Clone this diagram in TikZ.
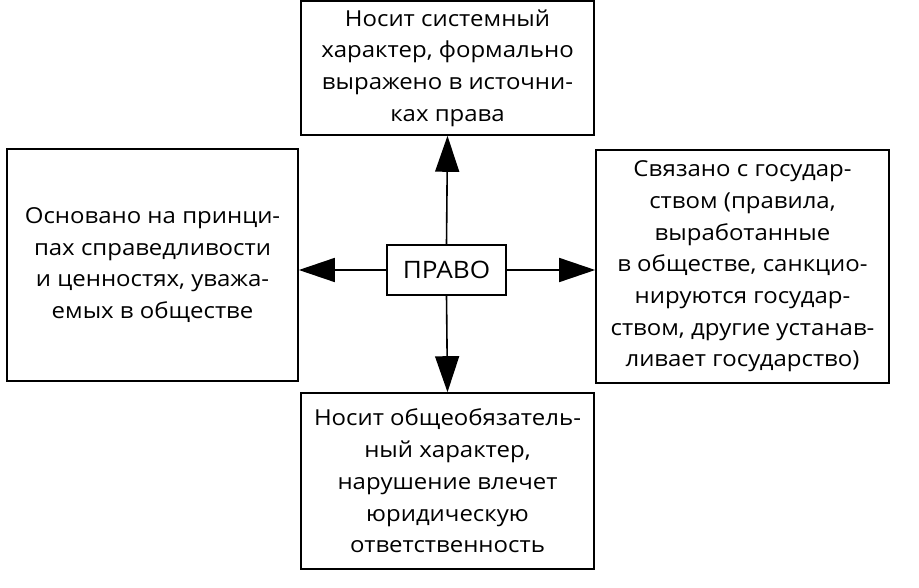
\documentclass[tikz,border=0pt]{standalone}
\usepackage{fontspec}
\setmainfont[FakeStretch=1.09]{Open Sans}
\usepackage{tikz}
\usetikzlibrary{positioning,arrows.meta}

\begin{document}
\begin{tikzpicture}[x=1pt,y=-1pt,
		box/.style={draw,line width=1.6pt,inner sep=0pt,align=center,
			font={\fontsize{22}{31.7}\selectfont}},
		arr/.style={line width=1.6pt,-{Triangle[length=36pt,width=24pt]}}]
			\useasboundingbox (0,0) rectangle (919,588);
			\node[box,minimum width=293pt,minimum height=134pt] at (447.5,68) (sys)
				{Носит системный\\характер, формально\\выражено в источни-\\ках права};
			\node[box,minimum width=291pt,minimum height=232pt] at (152.5,265) (spr)
				{Основано на принци-\\пах справедливости\\и ценностях, уважа-\\емых в обществе};
			\node[box,minimum width=293pt,minimum height=233pt] at (742.5,266.5) (gos)
				{Связано с государ-\\ством (правила,\\выработанные\\в обществе, санкцио-\\нируются государ-\\ством, другие устанав-\\ливает государство)};
			\node[box,minimum width=293pt,minimum height=176pt] at (447.5,481) (obz)
				{Носит общеобязатель-\\ный характер,\\нарушение влечет\\юридическую\\ответственность};
			\node[box,minimum width=119pt,minimum height=50pt,font={\fontsize{24}{30}\selectfont}]
				at (446.5,270) (pravo) {ПРАВО};
			\draw[arr] (pravo.north) -- (sys.south);
			\draw[arr] (pravo.south) -- (obz.north);
			\draw[arr] (pravo.west) -- (pravo.west -| spr.east);
			\draw[arr] (pravo.east) -- (pravo.east -| gos.west);
		\end{tikzpicture}
\end{document}
